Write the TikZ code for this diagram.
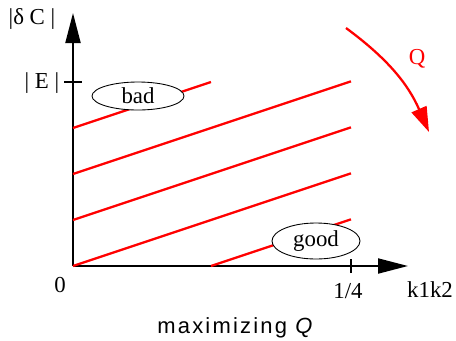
\documentclass[tikz,border=0pt]{standalone}
\usepackage{fontspec}
\setmainfont{Liberation Serif}
\newfontfamily\capfont[LetterSpace=10]{Liberation Sans}
\usetikzlibrary{arrows.meta, shapes.geometric}
\definecolor{level-red}{HTML}{FF0000}

\begin{document}
\begin{tikzpicture}[
    every node/.style={font=\fontsize{13}{15}\selectfont},
    axis/.style={line width=1.1pt},
    level/.style={draw=level-red, line width=1.3pt},
    region/.style={draw, ellipse, fill=white, line width=0.5pt, inner sep=0pt}]
  \useasboundingbox (-1.46,-1.48) rectangle (7.66,5.32);
  \coordinate (O) at (0,0);
  \coordinate (Ytip) at (0,5.06);
  \coordinate (Xtip) at (6.7,0);
  \coordinate (Qstart) at (5.46,4.76);
  \coordinate (Qend) at (7.12,2.68);
  \draw[axis, -{Triangle[length=0.6cm, width=0.3cm]}] (O) -- (Ytip);
  \draw[axis, -{Triangle[length=0.6cm, width=0.3cm]}] (O) -- (Xtip);
  \draw[axis] (-0.18,3.68) -- (0.18,3.68);
  \draw[axis] (5.56,-0.14) -- (5.56,0.14);
  \foreach \b in {0, 0.92, 1.84}
    \draw[level] (0,\b) -- (5.56,\b+1.853);
  \draw[level] (0,2.76) -- (2.76,3.68);
  \draw[level] (2.76,0) -- (5.56,0.933);
  \node[region, minimum width=1.84cm, minimum height=0.56cm] (bad) at (1.3,3.4) {bad};
  \node[region, minimum width=1.76cm, minimum height=0.72cm] (good) at (4.86,0.5) {good};
  \draw[level, -{Triangle[length=0.5cm, width=0.32cm]}] (Qstart) to[bend left=15] (Qend);
  \node[text=level-red] (Qlabel) at (6.88,4.14) {Q};
  \node (dC) at (-0.82,4.94) {|δ C |};
  \node (E) at (-0.62,3.66) {| E |};
  \node (zero) at (-0.26,-0.39) {0};
  \node (quarter) at (5.5,-0.51) {1/4};
  \node (k1k2) at (7.14,-0.48) {k1k2};
  \node[font=\capfont\fontsize{12.5}{14}\selectfont] (caption) at (3.26,-1.24) {maximizing \textit{Q}};
\end{tikzpicture}
\end{document}
